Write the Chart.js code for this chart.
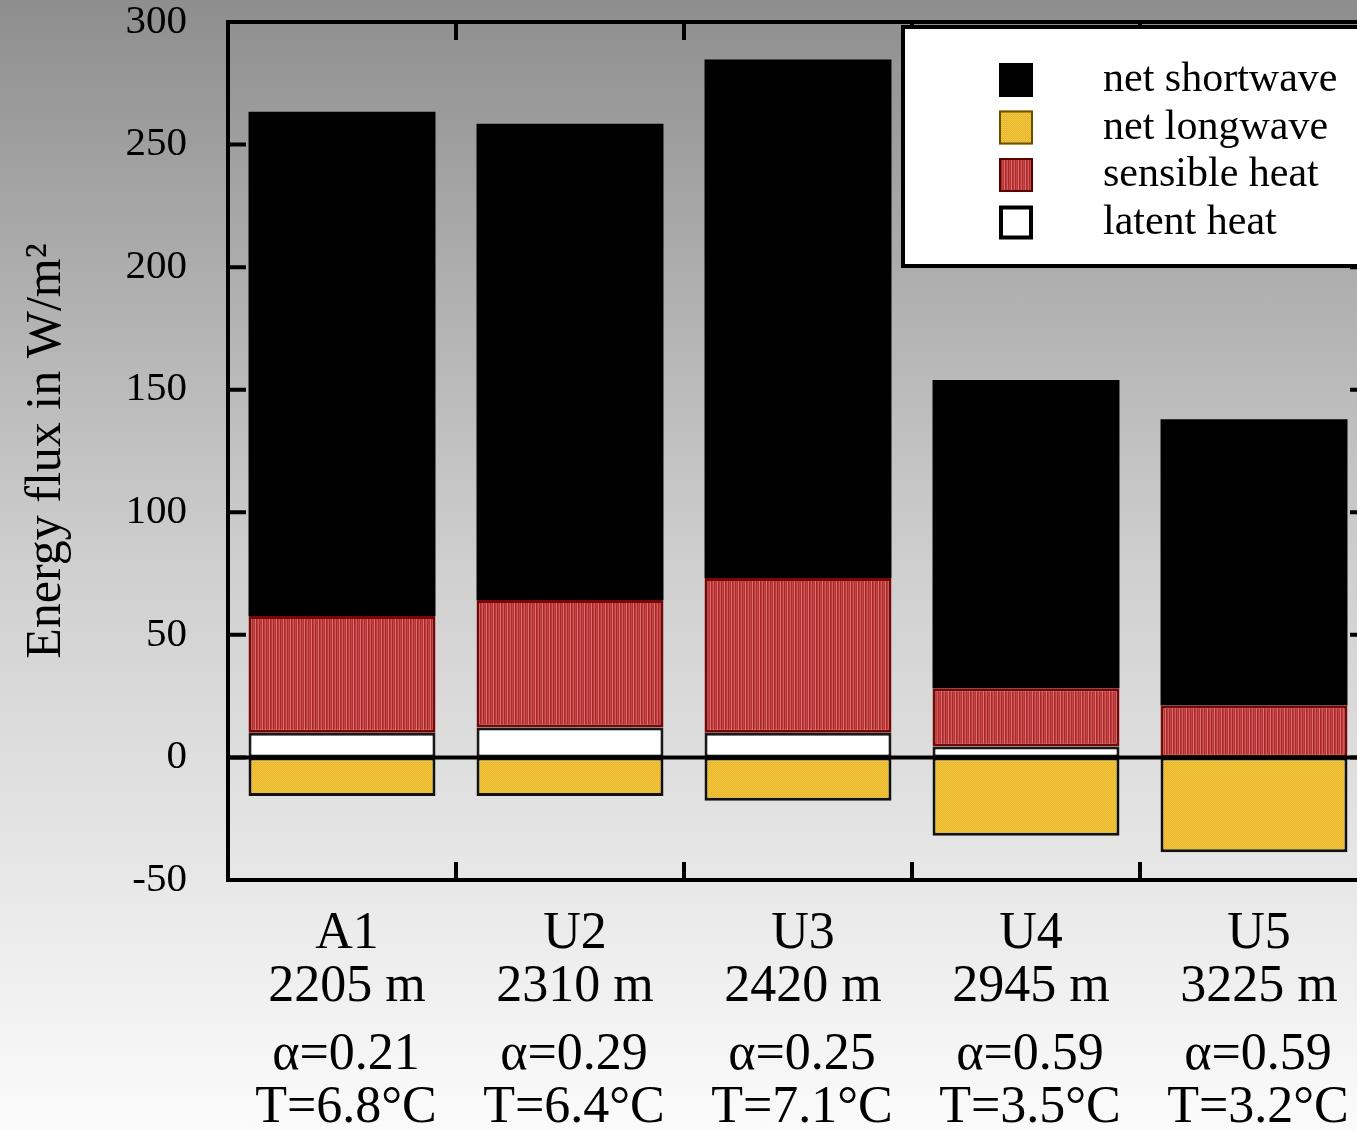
<!DOCTYPE html>
<html>
<head>
<meta charset="utf-8">
<script src="https://cdn.jsdelivr.net/npm/chart.js@4.4.0/dist/chart.umd.min.js"></script>
<style>
html, body { margin: 0; padding: 0; overflow: hidden; }
body { width: 1357px; height: 1131px; background: linear-gradient(#8e8e8e, #cfcfcf 50%, #fbfbfb); }
#wrap { width: 1372px; height: 1131px; }
</style>
</head>
<body>
<div id="wrap"><canvas id="energyChart" width="1372" height="1131"></canvas></div>
<script>
// sites: name + altitude, then albedo + temperature
var sites = [["A1", "2205 m"], ["U2", "2310 m"], ["U3", "2420 m"], ["U4", "2945 m"], ["U5", "3225 m"]];
var siteInfo = [["α=0.21", "T=6.8°C"], ["α=0.29", "T=6.4°C"], ["α=0.25", "T=7.1°C"], ["α=0.59", "T=3.5°C"], ["α=0.59", "T=3.2°C"]];

// W/m2, stacked: latent at the bottom, then sensible, then shortwave on top
var latentHeat   = [10.1, 12.2, 10.1, 4.5, 0];
var sensibleHeat = [47.6, 52.0, 63.1, 23.7, 21.2];
var netShortwave = [205.7, 194.3, 211.5, 125.8, 116.8];
var netLongwave  = [-15.7, -15.7, -17.7, -31.9, -38.7];

var legendOrder = ["net shortwave", "net longwave", "sensible heat", "latent heat"];

function makePattern(colors, w, h) {
    var c = document.createElement('canvas');
    c.width = w; c.height = h;
    var g = c.getContext('2d');
    for (var i = 0; i < colors.length; i++) {
        g.fillStyle = colors[i];
        g.fillRect(i % w, Math.floor(i / w), 1, 1);
    }
    return g.createPattern(c, 'repeat');
}
var redFill = makePattern(['#a92b2b', '#c84545', '#b33434', '#e07070', '#a52828', '#bf3c3c', '#d45a5a'], 7, 1);
var yellowFill = makePattern(['#f2c43c', '#e6b52a', '#e9b930', '#f4c840'], 2, 2);

var serif = 'Liberation Serif';

// frame, zero line and inward tick marks
var framePlugin = {
    id: 'frame',
    afterDatasetsDraw: function(chart) {
        var ctx = chart.ctx, a = chart.chartArea, x = chart.scales.x, y = chart.scales.y;
        ctx.save();
        ctx.strokeStyle = '#000';
        ctx.lineWidth = 4;
        var y0 = y.getPixelForValue(0);
        ctx.beginPath();
        ctx.moveTo(a.left, y0); ctx.lineTo(a.right, y0);
        ctx.stroke();
        ctx.strokeRect(a.left, a.top, a.right - a.left, a.bottom - a.top);
        ctx.beginPath();
        y.ticks.forEach(function(t) {
            var py = y.getPixelForValue(t.value);
            ctx.moveTo(a.left, py); ctx.lineTo(a.left + 18, py);
            ctx.moveTo(a.right, py); ctx.lineTo(a.right - 18, py);
        });
        for (var i = 0; i < x.ticks.length - 1; i++) {
            var px = (x.getPixelForTick(i) + x.getPixelForTick(i + 1)) / 2;
            ctx.moveTo(px, a.bottom); ctx.lineTo(px, a.bottom - 18);
            ctx.moveTo(px, a.top); ctx.lineTo(px, a.top + 18);
        }
        ctx.stroke();
        ctx.restore();
    }
};

// boxed legend inside the plot, top right
var boxLegend = {
    id: 'boxLegend',
    afterDraw: function(chart) {
        var ctx = chart.ctx, a = chart.chartArea;
        var left = a.right - 465, top = a.top + 5;
        ctx.save();
        ctx.fillStyle = '#fff';
        ctx.fillRect(left, top, 480, 239);
        ctx.strokeStyle = '#000';
        ctx.lineWidth = 4;
        ctx.strokeRect(left, top, 480, 239);
        ctx.font = '42px "' + serif + '"';
        ctx.textBaseline = 'middle';
        ctx.textAlign = 'left';
        legendOrder.forEach(function(name, i) {
            var ds = chart.data.datasets.filter(function(d) { return d.label === name; })[0];
            var cy = top + 53 + i * 47.5;
            ctx.fillStyle = ds.backgroundColor;
            ctx.fillRect(left + 96, cy - 17, 34, 34);
            if (ds.legendBorder) {
                ctx.strokeStyle = ds.legendBorder;
                ctx.lineWidth = ds.legendBorderWidth;
                var h = ds.legendBorderWidth / 2;
                ctx.strokeRect(left + 96 + h, cy - 17 + h, 34 - 2 * h, 34 - 2 * h);
            }
            ctx.fillStyle = '#000';
            ctx.fillText(name, left + 200, cy);
        });
        ctx.restore();
    }
};

var energyChart = new Chart(document.getElementById('energyChart').getContext('2d'), {
    type: 'bar',
    data: {
        labels: sites,
        datasets: [
            {
                label: 'latent heat',
                data: latentHeat,
                backgroundColor: '#fff',
                borderColor: '#1a1a1a',
                borderWidth: 3,
                borderSkipped: false,
                legendBorder: '#000',
                legendBorderWidth: 4
            },
            {
                label: 'sensible heat',
                data: sensibleHeat,
                backgroundColor: redFill,
                borderColor: '#780808',
                borderWidth: 3,
                borderSkipped: false,
                legendBorder: '#5a0000',
                legendBorderWidth: 2
            },
            {
                label: 'net shortwave',
                data: netShortwave,
                backgroundColor: '#000',
                borderWidth: 0
            },
            {
                label: 'net longwave',
                data: netLongwave,
                backgroundColor: yellowFill,
                borderColor: '#111',
                borderWidth: 3,
                borderSkipped: false,
                legendBorder: '#6a5000',
                legendBorderWidth: 2
            }
        ]
    },
    options: {
        responsive: false,
        animation: false,
        devicePixelRatio: 1,
        barPercentage: 0.82,
        categoryPercentage: 1.0,
        layout: { padding: { top: 22, right: 4, left: 0, bottom: 0 } },
        plugins: {
            legend: { display: false },
            tooltip: { enabled: false }
        },
        scales: {
            x: {
                stacked: true,
                position: 'bottom',
                weight: 0,
                grid: { display: false, drawTicks: false },
                border: { display: false },
                ticks: {
                    color: '#000',
                    font: { family: serif, size: 52, lineHeight: 1.02 },
                    padding: 28,
                    labelOffset: 5,
                    maxRotation: 0,
                    autoSkip: false
                },
                afterFit: function(s) { s.height = 130; }
            },
            x2: {
                type: 'category',
                labels: siteInfo,
                offset: true,
                position: 'bottom',
                weight: 1,
                grid: { display: false, drawTicks: false },
                border: { display: false },
                ticks: {
                    color: '#000',
                    font: { family: serif, size: 52, lineHeight: 1.02 },
                    padding: 19,
                    labelOffset: 4,
                    maxRotation: 0,
                    autoSkip: false
                },
                afterFit: function(s) { s.height = 121; }
            },
            y: {
                stacked: true,
                min: -50,
                max: 300,
                grid: { display: false, drawTicks: false },
                border: { display: false },
                ticks: {
                    stepSize: 50,
                    color: '#000',
                    font: { family: serif, size: 41, lineHeight: 1.0 },
                    padding: 41
                },
                title: {
                    display: true,
                    text: 'Energy flux in W/m²',
                    color: '#000',
                    font: { family: serif, size: 50 },
                    padding: { top: 17, bottom: 0 }
                },
                afterFit: function(s) {
                    s.width = 228;
                    s.paddingTop = 20;
                    s.paddingBottom = 20;
                }
            }
        }
    },
    plugins: [framePlugin, boxLegend]
});
</script>
</body>
</html>
